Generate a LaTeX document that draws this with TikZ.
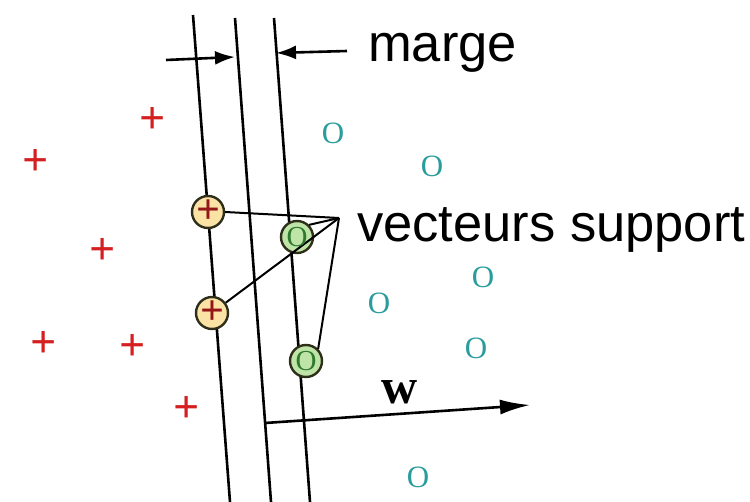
\documentclass[tikz,border=0pt]{standalone}
\usepackage{fontspec}
\setmainfont{Liberation Serif}
\newfontfamily\arialf{Liberation Sans}
\usetikzlibrary{arrows.meta}
\definecolor{plusred}{HTML}{D42020}
\definecolor{oteal}{HTML}{2A9C9C}
\definecolor{pfill}{HTML}{FBE3A6}
\definecolor{gfill}{HTML}{BFE4A8}
\definecolor{gdark}{HTML}{2F7A2F}
\definecolor{edge}{HTML}{2E2E1A}
\tikzset{
  ln/.style={line width=2.6pt, black},
  arr/.style={line width=2.6pt, -{Latex[length=20pt,width=14pt]}},
  warr/.style={line width=2.6pt, -{Latex[length=30pt,width=15pt]}},
  pl/.style={text=plusred, font=\bfseries\fontsize{46}{46}\selectfont, inner sep=0pt},
  ob/.style={text=oteal, font=\fontsize{31}{31}\selectfont, inner sep=0pt},
  psv/.style={circle, draw=edge, line width=2.4pt, fill=pfill, minimum size=32pt, inner sep=0pt},
  osv/.style={circle, draw=edge, line width=2.4pt, fill=gfill, minimum size=32pt, inner sep=0pt},
  svplus/.style={text=plusred!70!black, font=\bfseries\fontsize{42}{42}\selectfont, inner sep=0pt},
  svo/.style={text=gdark, font=\fontsize{29}{29}\selectfont, inner sep=0pt},
  sline/.style={line width=2pt},
  lab/.style={font=\arialf\fontsize{52.5}{52.5}\selectfont, inner sep=0pt}
}
\begin{document}
\begin{tikzpicture}[x=1pt,y=-1pt]
\useasboundingbox (0,0) rectangle (750,502);
% hyperplane and margins
\coordinate (l1t) at (193,15);  \coordinate (l1b) at (230,502);
\coordinate (l2t) at (235,18);  \coordinate (l2b) at (271,502);
\coordinate (l3t) at (274,18);  \coordinate (l3b) at (310,502);
\draw[ln] (l1t) -- (l1b);
\draw[ln] (l2t) -- (l2b);
\draw[ln] (l3t) -- (l3b);
% margin arrows
\coordinate (ma1) at (166,60); \coordinate (mb1) at (235,57);
\coordinate (ma2) at (347,51); \coordinate (mb2) at (276,53);
\draw[arr] (ma1) -- (mb1);
\draw[arr] (ma2) -- (mb2);
\node[lab, anchor=base west] (marge) at (368,62) {marge};
% plus points
\node[pl] (p1) at (153,121) {+};
\node[pl] (p2) at (36,163) {+};
\node[pl] (p3) at (103,252) {+};
\node[pl] (p4) at (44,345) {+};
\node[pl] (p5) at (133,348) {+};
\node[pl] (p6) at (187,410) {+};
% o points
\node[ob] (o1) at (333,133) {O};
\node[ob] (o2) at (432,166) {O};
\node[ob] (o3) at (483,277) {O};
\node[ob] (o4) at (379,303) {O};
\node[ob] (o5) at (476,348) {O};
\node[ob] (o6) at (418,477) {O};
% support vectors label
\coordinate (apex) at (339,218);
\node[lab, anchor=base west] (vs) at (357,242) {vecteurs support};
% support vectors
\node[psv] (sp1) at (208,212) {};
\node[psv] (sp2) at (212,313) {};
\node[osv] (so1) at (297,237) {};
\node[osv] (so2) at (306,361) {};
\draw[sline] (sp1.east) -- (apex);
\draw[sline] (sp2) -- (apex);
\draw[sline] (so1.north east) -- (apex);
\draw[sline] (so2.north east) -- (apex);
\node[svplus] at (sp1) {+};
\node[svplus] at (sp2) {+};
\node[svo] at (so1) {O};
\node[svo] at (so2) {O};
% w vector
\coordinate (wt) at (265,423);
\coordinate (wh) at (530,405);
\draw[warr] (wt) -- (wh);
\node[font=\bfseries\fontsize{50}{50}\selectfont, inner sep=0pt] (w) at (400,392) {w};
\end{tikzpicture}
\end{document}
